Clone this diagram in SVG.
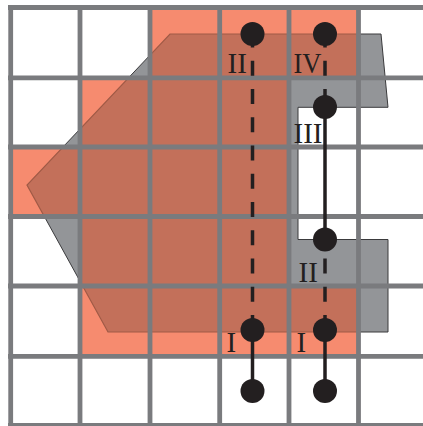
<svg xmlns="http://www.w3.org/2000/svg" xmlns:xlink="http://www.w3.org/1999/xlink" width="423" height="426" viewBox="0 0 423 426">
<style>
.grid{fill:none;stroke:#7a7b7e;stroke-width:4.8}
.shape{fill:#939598;stroke:#3a3a3c;stroke-width:1}
.orange{fill:#f68b6f}
.brown{fill:#c3705a;stroke:#a05a46;stroke-width:1.2}
.dash{fill:none;stroke:#231f20;stroke-width:3.5;stroke-dasharray:15 13.26}
.solid{fill:none;stroke:#231f20;stroke-width:3.5}
.dot{fill:#231f20}
.lbl{font-family:"Liberation Serif","Times New Roman",serif;font-size:29px;fill:#231f20}
</style>
<defs>
<path id="cells" d="M150 7.5H358.5V77.8H150Z M80 77.8H289V147H80Z M10.7 147H289V216.5H10.7Z M80 216.5H289V286H80Z M80 286H358.5V356.3H80Z"/>
<path id="poly" d="M170 34H381L388 107.3H298V239.5H388V332H108L27 185Z"/>
<clipPath id="oc"><use xlink:href="#cells"/></clipPath>
</defs>
<rect width="423" height="426" fill="#ffffff"/>
<g id="region">
<use xlink:href="#poly" class="shape"/>
<use xlink:href="#cells" class="orange"/>
<use xlink:href="#poly" class="brown" clip-path="url(#oc)"/>
</g>
<g id="grid">
<path class="grid" d="M10.7 5V426M80 5V426M150 5V426M219.7 5V426M289 5V426M358.5 5V426M8 7.5H423M8 77.8H423M8 147H423M8 216.5H423M8 286H423M8 356.3H423M8 425.5H423"/>
</g>
<g id="connectors">
<line class="dash" x1="252.5" y1="32.5" x2="252.5" y2="330"/>
<line class="solid" x1="252.5" y1="330" x2="252.5" y2="391"/>
<line class="dash" x1="325" y1="32.5" x2="325" y2="107"/>
<line class="solid" x1="325" y1="107" x2="325" y2="239.5"/>
<line class="dash" x1="325" y1="239.5" x2="325" y2="330" stroke-dashoffset="9.18"/>
<line class="solid" x1="325" y1="330" x2="325" y2="391"/>
</g>
<g id="node-II-top"><circle class="dot" cx="252.5" cy="34" r="12"/><text class="lbl" x="227.5" y="73">II</text></g>
<g id="node-IV"><circle class="dot" cx="325" cy="34" r="12"/><text class="lbl" x="293.5" y="73" textLength="28" lengthAdjust="spacingAndGlyphs">IV</text></g>
<g id="node-III"><circle class="dot" cx="325" cy="107" r="12"/><text class="lbl" x="293.5" y="143">III</text></g>
<g id="node-II-low"><circle class="dot" cx="325" cy="239.5" r="12"/><text class="lbl" x="298.5" y="282">II</text></g>
<g id="node-I-left"><circle class="dot" cx="252.5" cy="330" r="12"/><text class="lbl" x="226.5" y="352">I</text></g>
<g id="node-I-right"><circle class="dot" cx="325" cy="330" r="12"/><text class="lbl" x="296.5" y="352">I</text></g>
<g id="node-end-left"><circle class="dot" cx="252.5" cy="391" r="12"/></g>
<g id="node-end-right"><circle class="dot" cx="325" cy="391" r="12"/></g>
</svg>
